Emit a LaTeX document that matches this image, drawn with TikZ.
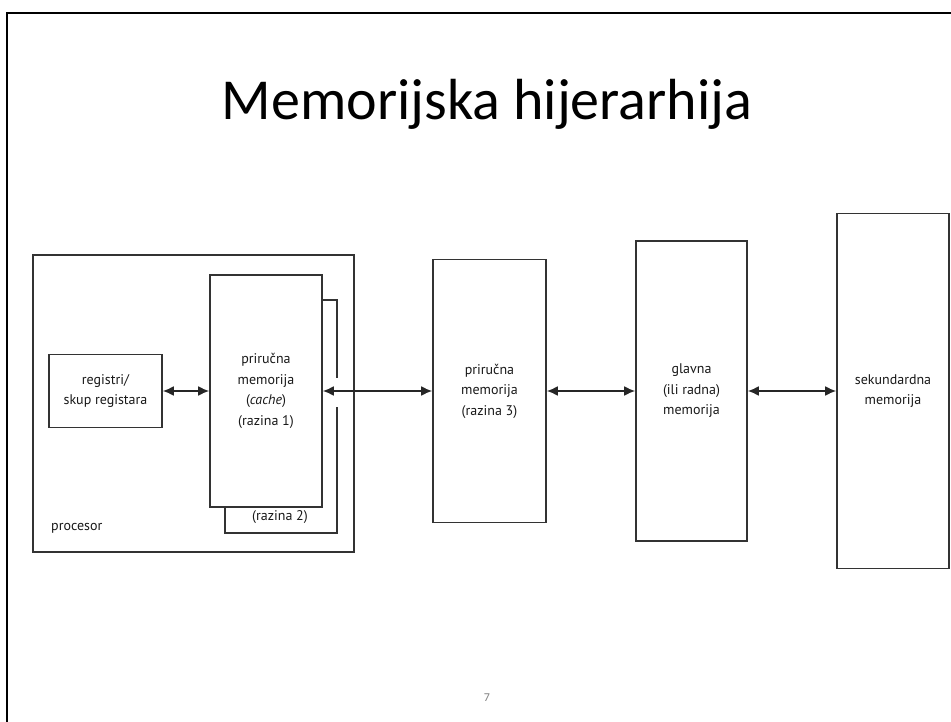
\documentclass[tikz,border=0pt]{standalone}
\usepackage{fontspec}
\setmainfont{Carlito}
\newfontfamily\bookfont{PT Sans}
\usetikzlibrary{arrows.meta}

\begin{document}
\begin{tikzpicture}[x=1pt, y=-1pt,
    box/.style={draw=black!80, line width=0.55mm, fill=white, inner sep=0pt, align=center,
        font=\bookfont\fontsize{14}{20.5}\selectfont, text=black!90},
    lbl/.style={font=\bookfont\fontsize{14}{20.5}\selectfont, text=black!90, inner sep=0pt},
    link/.style={{Latex[length=11pt,width=10pt]}-{Latex[length=11pt,width=10pt]}, line width=0.65mm, draw=black!85}]
    \useasboundingbox (0,0) rectangle (951,722);
    \draw[line width=0.7mm] (7,722) -- (7,13) -- (951,13); % slide frame
    \node[anchor=base, font=\fontsize{58}{60}\selectfont] (title) at (487,120) {Memorijska hijerarhija};

    \node[box, minimum width=321pt, minimum height=297pt] (cpu) at (193.5,403.5) {};
    \node[lbl, anchor=west] (cpulabel) at (51,528) {procesor};
    \node[box, minimum width=113pt, minimum height=73pt] (reg) at (105.5,391) {registri/\\skup registara};
    \node[box, minimum width=112pt, minimum height=233pt] (cachetwo) at (281,416.5) {};
    \node[lbl] (twolabel) at (280,517) {(razina 2)};
    \node[box, minimum width=112pt, minimum height=232pt] (cacheone) at (266,391) {priručna\\memorija\\(\textit{cache})\\(razina 1)};
    \draw[white, line width=1.2mm] ([yshift=38.5pt]cachetwo.east) -- ([yshift=9.5pt]cachetwo.east);

    \node[box, minimum width=113pt, minimum height=263pt] (cachethree) at (489.5,391) {priručna\\memorija\\(razina 3)};
    \node[box, minimum width=111pt, minimum height=300pt] (mainmem) at (691.5,391) {glavna\\(ili radna)\\memorija};
    \node[box, minimum width=112pt, minimum height=355pt] (secmem) at (893,391) {sekundardna\\memorija};

    \draw[link] (reg) -- (cacheone);
    \draw[link] (cacheone) -- (cachethree);
    \draw[link] (cachethree) -- (mainmem);
    \draw[link] (mainmem) -- (secmem);

    \node[text=black!50, font=\fontsize{12}{14}\selectfont] (pagenum) at (487,698) {7};
\end{tikzpicture}
\end{document}
